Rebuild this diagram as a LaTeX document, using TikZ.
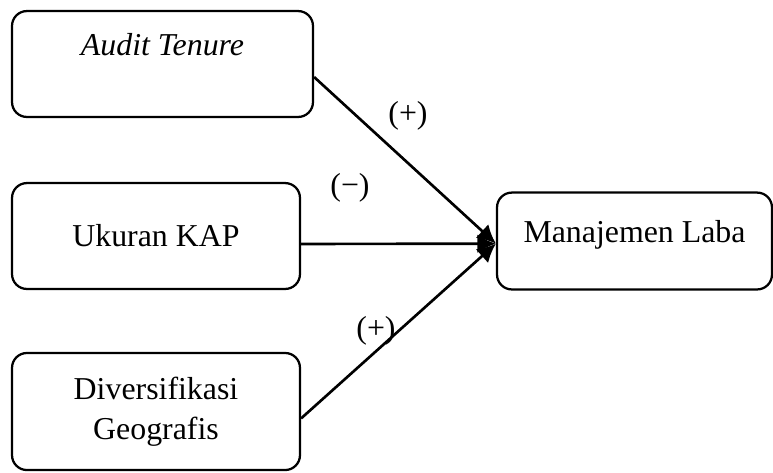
\documentclass[tikz,border=0pt]{standalone}
\usepackage{fontspec}
\setmainfont{Liberation Serif}
\usetikzlibrary{arrows.meta, positioning}
\tikzstyle{varbox} = [rectangle, rounded corners=5.6pt,
line width=0.85pt,
minimum height=39.9pt,
text centered,
align=center,
draw=black]
\tikzstyle{arrow} = [line width=1pt,-{Latex[length=7pt,width=7pt]},draw=black]

\begin{document}
\begin{tikzpicture}[x=0.3768pt, y=-0.3768pt, every node/.style={font=\fontsize{12}{15}\selectfont}]
        \useasboundingbox (0,0) rectangle (773,472);

        % Nodos
        \node (tenure) [varbox, minimum width=113.4pt, text depth=14.5pt] at (162.5,64) {\textit{Audit Tenure}};
        \node (kap) [varbox, minimum width=108.5pt] at (156,236) {Ukuran KAP};
        \node (geo) [varbox, minimum width=108.5pt, minimum height=44.1pt] at (156,411.5) {Diversifikasi\\Geografis};
        \node (laba) [varbox, minimum width=103.6pt, minimum height=36.5pt, text depth=7pt] at (634.5,241) {Manajemen Laba};

        % Tanda
        \node (s1) at (408,116) {(+)};
        \node (s2) at (350,188) {(−)};
        \node (s3) at (376,331) {(+)};

        % Conexiones
        \draw [arrow] ([yshift=-4.9pt]tenure.east) -- ([yshift=-1pt]laba.west);
        \draw [arrow] ([yshift=-3pt]kap.east) -- ([yshift=-1pt]laba.west);
        \draw [arrow] ([yshift=-2.6pt]geo.east) -- ([yshift=-1pt]laba.west);

    \end{tikzpicture}
\end{document}
